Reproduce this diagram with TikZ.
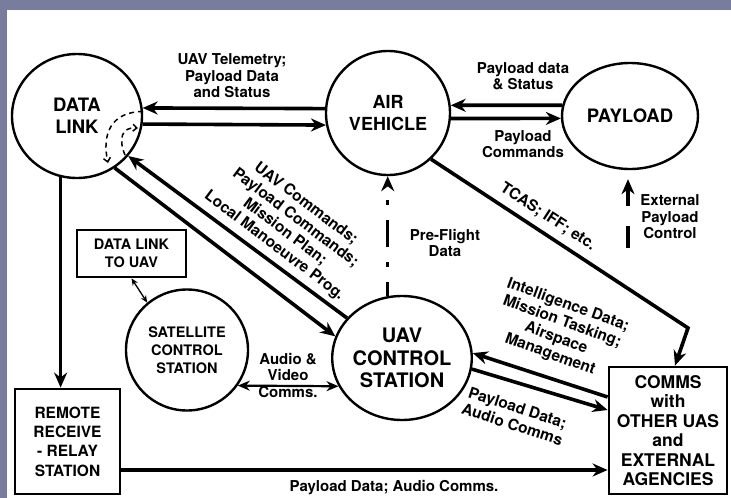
\documentclass[tikz,border=0pt]{standalone}
\usepackage{fontspec}
\setmainfont{TeX Gyre Heros}
\usepackage{tikz}
\usetikzlibrary{arrows.meta, shapes.geometric}
\definecolor{framegrey}{RGB}{121,125,157}
\newcommand{\boldat}[2]{\fontsize{#1}{#2}\selectfont\bfseries}

\tikzset{
  blob/.style={ellipse, draw, line width=2.4pt, inner sep=0pt, align=center},
  panel/.style={rectangle, draw, line width=2.8pt, inner sep=0pt, align=center},
  lbl/.style={align=center, inner sep=0pt, font=\boldat{15}{16.5}},
  slantlbl/.style={lbl, font=\boldat{15.5}{17.5}},
  flow/.style={line width=3.6pt, -{Stealth[length=15pt,width=13pt]}},
  duplex/.style={line width=2.2pt, {Stealth[length=12pt,width=10pt]}-{Stealth[length=12pt,width=10pt]}},
  thinlink/.style={line width=1.3pt, {Stealth[length=7pt,width=6pt]}-{Stealth[length=7pt,width=6pt]}},
  relay/.style={line width=1.5pt, dash pattern=on 5pt off 4pt, -{Straight Barb[length=4pt,width=7pt]}},
}

\begin{document}
\begin{tikzpicture}[x=1pt, y=-1pt, >=Stealth]

  % ---------- Frame ----------
  \useasboundingbox (0,0) rectangle (731,498);
  \fill[white] (0,0) rectangle (731,498);
  \fill[framegrey] (0,0) rectangle (731,10);
  \fill[framegrey] (0,0) rectangle (7,498);

  % ---------- Stations ----------
  \node[blob, minimum width=130pt, minimum height=124pt, font=\boldat{18.5}{22}] (dl) at (77,116) {DATA\\LINK};
  \node[blob, minimum width=124pt, minimum height=124pt, font=\boldat{18}{22}] (av) at (388,113) {AIR\\VEHICLE};
  \node[blob, minimum width=136pt, minimum height=106pt, font=\boldat{18.5}{22}] (pl) at (630,116) {PAYLOAD};
  \node[blob, minimum width=132pt, minimum height=124pt, font=\boldat{20}{22.5}] (uav) at (402,358) {UAV\\CONTROL\\STATION};
  \node[blob, minimum width=122pt, minimum height=121pt, font=\boldat{14.5}{18}] (sat) at (187,350) {SATELLITE\\CONTROL\\STATION};

  % boxes
  \node[panel, minimum width=109pt, minimum height=47pt, font=\boldat{14.5}{18}] (dlbox) at (131.5,253.5) {DATA LINK\\TO UAV};
  \node[panel, minimum width=105pt, minimum height=105pt, font=\boldat{15.5}{19.3}] (rr) at (67.5,441.5) {REMOTE\\RECEIVE\\- RELAY\\STATION};
  \node[panel, minimum width=118pt, minimum height=127pt, font=\boldat{17.5}{19.5}] (comms) at (668,430.5) {COMMS\\with\\OTHER UAS\\and\\EXTERNAL\\AGENCIES};

  % ---------- Links ----------
  \draw[flow] (av.176) -- (dl.7);
  \draw[flow] (dl.-7) -- (av.191);
  \draw[flow] (pl.171) -- (av.7);
  \draw[flow] (av.-5) -- (pl.182);
  \draw[flow] (uav.144) -- (dl.-38);
  \draw[flow] (dl.-54) -- (uav.162);
  \draw[flow] (dl.-105) -- (dl.-105 |- rr.north);
  \draw[flow] ([yshift=-28.5pt]rr.east) -- ([yshift=-39.5pt]comms.west);
  \draw[flow] ([yshift=33.5pt]comms.west) -- (uav.4);
  \draw[flow] (uav.-9) -- ([yshift=20.5pt]comms.west);
  \coordinate (bend) at (688,328);
  \draw[flow, line join=miter] (av.-47) -- (bend) -- ([xshift=7pt]comms.north);
  \draw[duplex] (sat.-35) -- (uav.204);
  \draw[thinlink] (dlbox.south) -- (sat.130);

  % dash-dot pre-flight line
  \draw[line width=3.4pt, dash pattern=on 27pt off 15pt on 5pt off 15pt, dash phase=13pt,
        -{Stealth[length=15pt,width=13pt]}] (uav.103) -- (uav.103 |- av.south);
  % external payload control
  \coordinate (extsrc) at (628,248);
  \draw[line width=3.4pt, dash pattern=on 22pt off 20pt on 60pt, shorten >=9pt,
        -{Stealth[length=15pt,width=13pt]}] (extsrc) -- (extsrc |- pl.south);

  % relay inside the data link
  \draw[relay] (dl.4) .. controls (110,112) and (102,135) .. (108,163);
  \draw[relay] (125,155) .. controls (118,138) and (122,127) .. (138,128);

  % ---------- Labels ----------
  \node[lbl] (tlm) at (232,76) {UAV Telemetry;\\Payload Data\\and Status};
  \node[lbl] (plstat) at (523,76) {Payload data\\\& Status};
  \node[lbl] (plcmd) at (523,144) {Payload\\Commands};
  \node[lbl] (preflt) at (445,243) {Pre-Flight\\Data};
  \node[lbl] (extlbl) at (670,217) {External\\Payload\\Control};
  \node[slantlbl, rotate=-33] (tcas) at (548,217) {TCAS; IFF; etc.};
  \node[slantlbl, rotate=-37] (uavcmd) at (290,225) {UAV Commands;\\Payload Commands;\\Mission Plan;\\Local Manoeuvre Prog.};
  \node[slantlbl, rotate=-20] (intel) at (559,330) {Intelligence Data;\\Mission Tasking;\\Airspace\\Management};
  \node[slantlbl, rotate=-18] (pdaudio) at (515,416) {Payload Data;\\Audio Comms};
  \node[lbl] (avcomms) at (288,375) {Audio \&\\Video\\Comms.};
  \node[lbl] (relaylbl) at (394,488) {Payload Data; Audio Comms.};

\end{tikzpicture}
\end{document}
